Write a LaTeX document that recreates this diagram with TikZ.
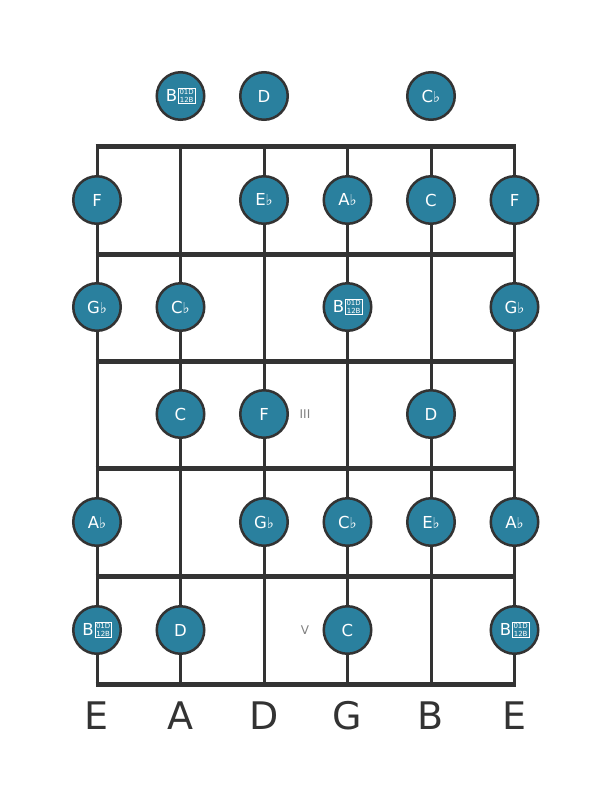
\documentclass[tikz,border=0pt]{standalone}
\usepackage{fontspec}
\setmainfont{DejaVu Sans}
\usetikzlibrary{positioning}

\definecolor{notefill}{RGB}{42,128,158}
\definecolor{linegray}{RGB}{51,51,51}
\newcommand{\flt}{{\fontsize{15}{15}\selectfont ♭}}
\newcommand{\tofu}{\hspace{1pt}{\setlength\fboxsep{0.7pt}\setlength\fboxrule{0.6pt}\raisebox{-1pt}{\fbox{\fontsize{7}{6.5}\selectfont\shortstack{01D\\12B}}}}}

\begin{document}
\begin{tikzpicture}[x=1pt,y=-1pt,
    note/.style={circle,draw=linegray,line width=2.5pt,fill=notefill,minimum size=47.5pt,inner sep=0pt,text=white,font=\fontsize{16.5}{16.5}\selectfont},
    fret/.style={draw=linegray,line width=5pt},
    gstring/.style={draw=linegray,line width=3pt},
    marker/.style={text=gray,font=\fontsize{12}{12}\selectfont},
    strname/.style={text=linegray,font=\fontsize{38}{38}\selectfont}]
        \useasboundingbox (0,0) rectangle (611,801);
        % strings
        \draw[gstring] (97,146) -- (97,684);
        \draw[gstring] (180.5,146) -- (180.5,684);
        \draw[gstring] (264,146) -- (264,684);
        \draw[gstring] (347.5,146) -- (347.5,684);
        \draw[gstring] (431,146) -- (431,684);
        \draw[gstring] (514.5,146) -- (514.5,684);
        % frets
        \draw[fret] (95.5,146) -- (516,146);
        \draw[fret] (95.5,254) -- (516,254);
        \draw[fret] (95.5,361) -- (516,361);
        \draw[fret] (95.5,468) -- (516,468);
        \draw[fret] (95.5,576) -- (516,576);
        \draw[fret] (95.5,684) -- (516,684);
        % open strings
        \node[note] (o2) at (180.5,96) {B\tofu};
        \node[note] (o3) at (264,96) {D};
        \node[note] (o5) at (431,96) {C\flt};
        % fret 1
        \node[note] (f1s1) at (97,200) {F};
        \node[note] (f1s3) at (264,200) {E\flt};
        \node[note] (f1s4) at (347.5,200) {A\flt};
        \node[note] (f1s5) at (431,200) {C};
        \node[note] (f1s6) at (514.5,200) {F};
        % fret 2
        \node[note] (f2s1) at (97,307) {G\flt};
        \node[note] (f2s2) at (180.5,307) {C\flt};
        \node[note] (f2s4) at (347.5,307) {B\tofu};
        \node[note] (f2s6) at (514.5,307) {G\flt};
        % fret 3
        \node[note] (f3s2) at (180.5,414) {C};
        \node[note] (f3s3) at (264,414) {F};
        \node[note] (f3s5) at (431,414) {D};
        \node[marker] (m3) at (305,414) {III};
        % fret 4
        \node[note] (f4s1) at (97,522) {A\flt};
        \node[note] (f4s3) at (264,522) {G\flt};
        \node[note] (f4s4) at (347.5,522) {C\flt};
        \node[note] (f4s5) at (431,522) {E\flt};
        \node[note] (f4s6) at (514.5,522) {A\flt};
        % fret 5
        \node[note] (f5s1) at (97,630) {B\tofu};
        \node[note] (f5s2) at (180.5,630) {D};
        \node[note] (f5s4) at (347.5,630) {C};
        \node[note] (f5s6) at (514.5,630) {B\tofu};
        \node[marker] (m5) at (305,630) {V};
        % string names
        \node[strname] (n1) at (97,716) {E};
        \node[strname] (n2) at (180.5,716) {A};
        \node[strname] (n3) at (264,716) {D};
        \node[strname] (n4) at (347.5,716) {G};
        \node[strname] (n5) at (431,716) {B};
        \node[strname] (n6) at (514.5,716) {E};
\end{tikzpicture}
\end{document}
